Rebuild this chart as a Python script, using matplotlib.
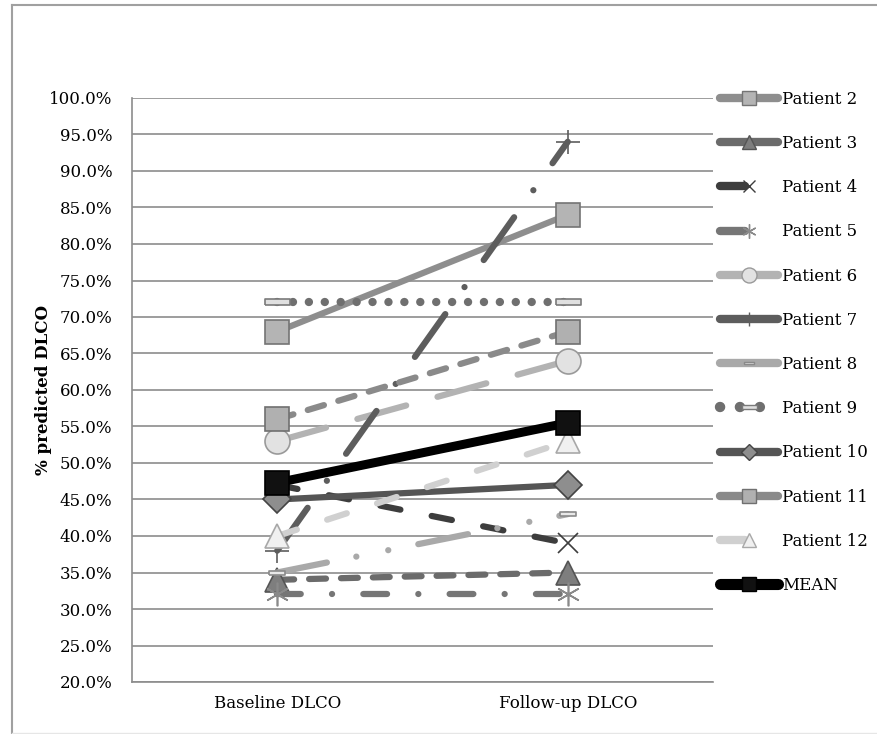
import numpy as np
import matplotlib
matplotlib.use("Agg")
import matplotlib.pyplot as plt
from matplotlib.lines import Line2D

# data (% predicted DLCO)
categories = ["Baseline DLCO", "Follow-up DLCO"]
series_names = ["Patient 2", "Patient 3", "Patient 4", "Patient 5", "Patient 6",
                "Patient 7", "Patient 8", "Patient 9", "Patient 10", "Patient 11",
                "Patient 12", "MEAN"]
baseline = [68, 34, 47, 32, 53, 38, 35, 72, 45, 56, 40, 47.3]
followup = [84, 35, 39, 32, 64, 94, 43, 72, 47, 68, 53, 55.5]
yticks = np.arange(20, 101, 5)

plt.rcParams['font.family'] = ['DejaVu Serif']

bar_h = [(-1, -0.22), (1, -0.22), (1, 0.22), (-1, 0.22), (-1, -0.22)]

# style per series: color, lw, dashes, marker, msize, face, edge, legend dashes
styles = [
    ('#8e8e8e', 4.5, '-', 's', 17, '#b4b4b4', '#747474', '-'),
    ('#6b6b6b', 4.5, (0, (2.7, 2.4)), '^', 17, '#7e7e7e', '#555555', '-'),
    ('#3d3d3d', 4.5, (0, (3.3, 5.1)), 'x', 15, '#3d3d3d', '#3d3d3d', (0, (3.0, 12))),
    ('#767676', 4.5, (0, (3.8, 5.0, 0.01, 5.0)), (6, 2, 0), 17, '#8a8a8a', '#8a8a8a', (0, (3.0, 12))),
    ('#b3b3b3', 4.5, (0, (8.1, 5.2)), 'o', 18, '#e2e2e2', '#9a9a9a', '-'),
    ('#5d5d5d', 4.5, (0, (8.4, 5.3, 0.01, 5.3)), '+', 17, '#5d5d5d', '#5d5d5d', '-'),
    ('#a9a9a9', 4.5, (0, (8.1, 4.8, 0.01, 5.2, 0.01, 4.9)), bar_h, 12, '#e8e8e8', '#8a8a8a', '-'),
    ('#6f6f6f', 6.0, (0, (0.01, 1.9)), bar_h, 18, '#e0e0e0', '#7a7a7a', (0, (0.01, 1.9))),
    ('#555555', 4.5, '-', 'D', 14, '#8e8e8e', '#444444', '-'),
    ('#8a8a8a', 4.5, (0, (2.7, 2.4)), 's', 17, '#b0b0b0', '#707070', '-'),
    ('#d0d0d0', 4.5, (0, (3.3, 5.1)), '^', 17, '#f0f0f0', '#a8a8a8', (0, (3.0, 12))),
    ('#000000', 6.5, '-', 's', 17, '#111111', '#000000', '-'),
]

fig = plt.figure(figsize=(8.78, 7.34), dpi=100)
ax = fig.add_axes([132 / 878, 52 / 734, 581 / 878, 584 / 734])

x = np.arange(len(categories))
handles = []
for name, b, f, st in zip(series_names, baseline, followup, styles):
    color, lw, ls, mk, ms, face, edge, lls = st
    ax.plot(x, [b, f], color=color, lw=lw, linestyle=ls,
            dash_capstyle='round', solid_capstyle='round',
            marker=mk, markersize=ms, markerfacecolor=face,
            markeredgecolor=edge, markeredgewidth=1.2)
    # legend proxy, shorter pattern like the original legend
    handles.append(Line2D([], [], color=color, lw=lw + 1.5, linestyle=lls,
                          dash_capstyle='round', solid_capstyle='round',
                          marker=mk, markersize=ms * 0.6, markerfacecolor=face,
                          markeredgecolor=edge, markeredgewidth=1.0, label=name))

ax.set_xlim(-0.5, 1.5)
ax.set_ylim(20, 100)
ax.set_yticks(yticks)
ax.set_yticklabels([f"{v:.1f}%" for v in yticks])
ax.set_xticks(x)
ax.set_xticklabels(categories)
ax.tick_params(axis='y', length=0, pad=14, labelsize=12)
ax.tick_params(axis='x', length=0, pad=9, labelsize=12)
ax.yaxis.grid(True, color='#8c8c8c', lw=1.2)
ax.set_axisbelow(True)
for s in ['top', 'right']:
    ax.spines[s].set_visible(False)
ax.spines['left'].set_color('#8c8c8c')
ax.spines['bottom'].set_color('#8c8c8c')
ax.spines['left'].set_linewidth(1.2)
ax.spines['bottom'].set_linewidth(1.2)
ax.set_ylabel('% predicted DLCO', fontsize=12, fontweight='bold', labelpad=-2)

leg = fig.legend(handles=handles, loc='upper left',
                 bbox_to_anchor=(720 / 878, 1 - 91 / 734), frameon=False,
                 fontsize=12, handlelength=3.5, handletextpad=0.25,
                 labelspacing=1.63, borderpad=0, borderaxespad=0,
                 numpoints=1)

# outer frame
fig.add_artist(Line2D([12 / 878, 12 / 878], [0, 1 - 5 / 734], color='#a0a0a0', lw=1.5))
fig.add_artist(Line2D([12 / 878, 1], [1 - 5 / 734, 1 - 5 / 734], color='#a0a0a0', lw=1.5))
fig.add_artist(Line2D([12 / 878, 1], [1 / 734, 1 / 734], color='#e6e6e6', lw=1.0))

fig.savefig('out.png', dpi=100)
